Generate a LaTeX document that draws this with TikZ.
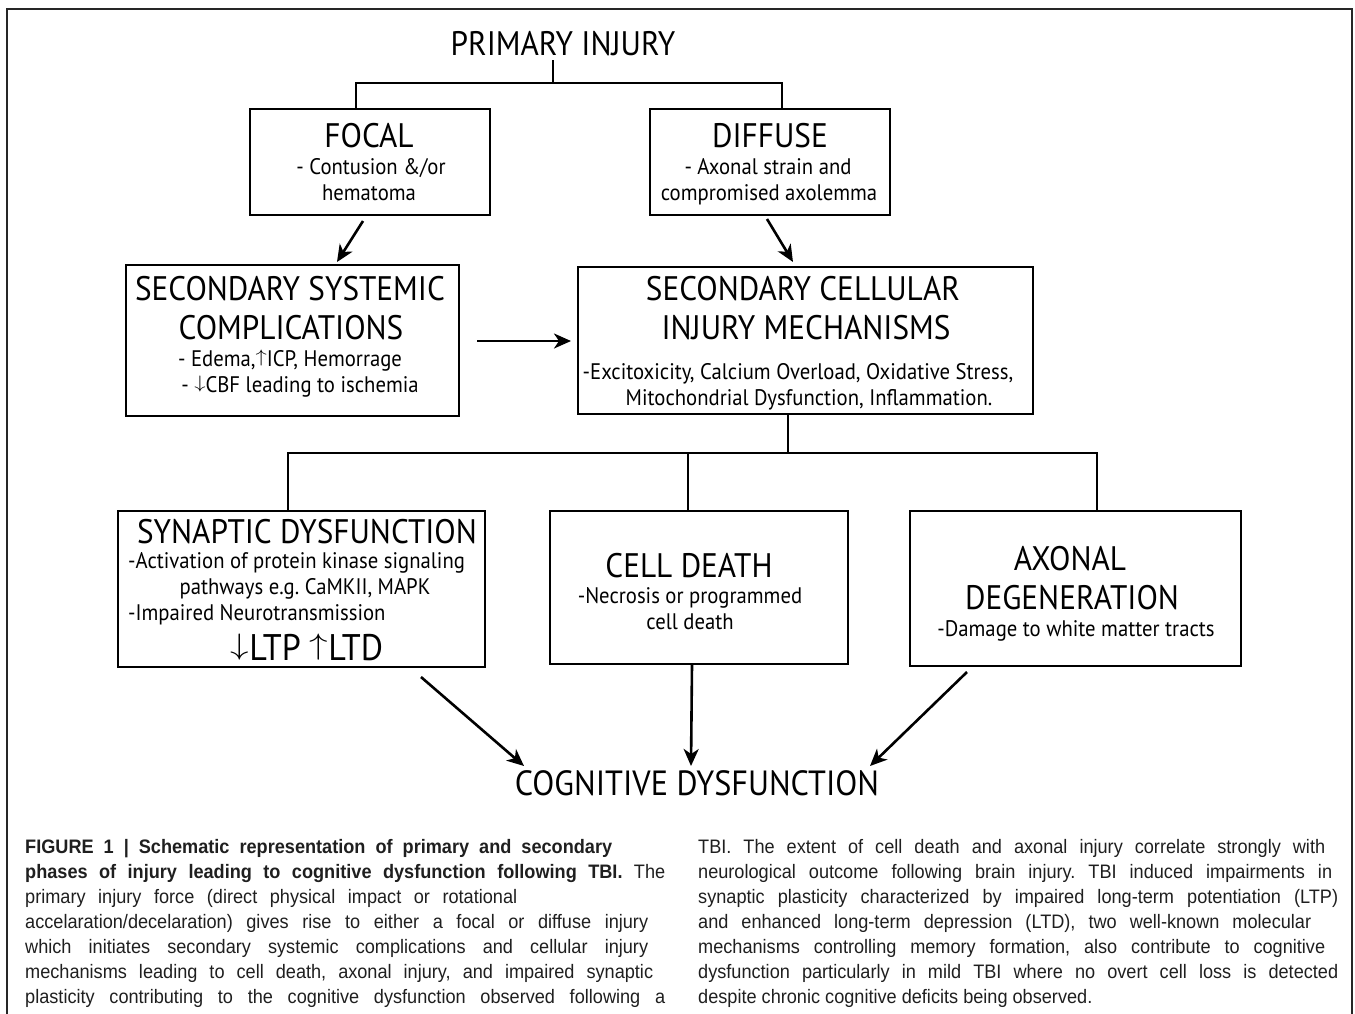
\documentclass[tikz,border=0pt]{standalone}
\usepackage{fix-cm}
\usepackage{graphicx}
\usepackage{fontspec}
\setmainfont{PT Sans}
\newfontfamily\dfont[FakeStretch=0.92]{PT Sans}
\newfontfamily\capfont[FakeStretch=0.93]{Liberation Sans}
\usetikzlibrary{arrows.meta}
\newcommand{\upa}{\raisebox{0.155em}{\scalebox{1}[0.8]{$\uparrow$}}}
\newcommand{\dna}{\raisebox{0.155em}{\scalebox{1}[0.8]{$\downarrow$}}}
\frenchspacing
\begin{document}
\begin{tikzpicture}[x=1pt,y=-1pt,
  box/.style={draw, line width=2pt, inner sep=0pt, anchor=north west},
  conn/.style={line width=2.6pt},
  arr/.style={line width=2.6pt, -{Stealth[length=17pt,width=15pt,inset=5pt]}},
  ttl/.style={anchor=base, inner sep=0pt, font=\dfont\fontsize{34}{40}\selectfont},
  sub/.style={anchor=base, inner sep=0pt, font=\dfont\fontsize{22.5}{26}\selectfont},
  subw/.style={sub, anchor=base west},
  capt/.style={anchor=base west, inner sep=0pt, text=black!88, font=\capfont\fontsize{19.5}{25}\selectfont}]
\fill[white] (0,0) rectangle (1355,1013);
\useasboundingbox (0,0) rectangle (1355,1013);
% outer frame
\draw[line width=1.3pt, black!85] (7,1030) -- (7,9) -- (1352,9) -- (1352,1030);

% title
\node[ttl] (primT) at (563,55) {PRIMARY INJURY};

% boxes
\node[box, minimum width=240pt, minimum height=106pt] (focal) at (249,108) {};
\node[box, minimum width=240pt, minimum height=106pt] (diffuse) at (649,108) {};
\node[box, minimum width=333pt, minimum height=151pt] (sys) at (125,264) {};
\node[box, minimum width=455pt, minimum height=147pt] (cell) at (577,266) {};
\node[box, minimum width=367pt, minimum height=156pt] (syn) at (117,510) {};
\node[box, minimum width=298pt, minimum height=153pt] (cd) at (549,510) {};
\node[box, minimum width=331pt, minimum height=155pt] (ax) at (909,510) {};

% box texts
\node[ttl] (focalT) at (369,147) {FOCAL};
\node[sub] (focalA) at (371,174) {- Contusion \&/or};
\node[sub] (focalB) at (369,200) {hematoma};

\node[ttl] (diffT) at (770,147) {DIFFUSE};
\node[sub] (diffA) at (768,174) {- Axonal strain and};
\node[sub] (diffB) at (769,200) {compromised axolemma};

\node[ttl] (sysT) at (290,300) {SECONDARY SYSTEMIC};
\node[ttl] (sysU) at (291,339) {COMPLICATIONS};
\node[sub] (sysA) at (290,366) {- Edema,\upa ICP, Hemorrage};
\node[sub] (sysB) at (300,392) {- \dna CBF leading to ischemia};

\node[ttl] (cellT) at (803,300) {SECONDARY CELLULAR};
\node[ttl] (cellU) at (806,339) {INJURY MECHANISMS};
\node[sub] (cellA) at (798,379) {-Excitoxicity, Calcium Overload, Oxidative Stress,};
\node[sub] (cellB) at (809,405) {Mitochondrial Dysfunction, Inflammation.};

\node[ttl] (synT) at (307,543) {SYNAPTIC DYSFUNCTION};
\node[subw] (synA) at (128,568) {-Activation of protein kinase signaling};
\node[sub] (synB) at (305,594) {pathways e.g. CaMKII, MAPK};
\node[subw] (synC) at (128,620) {-Impaired Neurotransmission};
\node[anchor=base, inner sep=0pt, font=\dfont\fontsize{37}{44}\selectfont] (synD) at (307,660) {\dna LTP \upa LTD};

\node[ttl] (cdT) at (689,577) {CELL DEATH};
\node[sub] (cdA) at (690,603) {-Necrosis or programmed};
\node[sub] (cdB) at (690,629) {cell death};

\node[ttl] (axT) at (1070,570) {AXONAL};
\node[ttl] (axU) at (1072,609) {DEGENERATION};
\node[sub] (axA) at (1076,636) {-Damage to white matter tracts};

\node[ttl, font=\dfont\fontsize{35}{42}\selectfont] (cog) at (697,795) {COGNITIVE DYSFUNCTION};

% tree connectors
\coordinate (pt) at (553,60);
\coordinate (pj) at (553,83);
\coordinate (fj) at (356,83);
\coordinate (dj) at (782,83);
\draw[conn] (pt) -- (pj);
\draw[conn] (fj |- focal.north) -- (fj) -- (dj) -- (dj |- diffuse.north);

\coordinate (cj) at (788,453);
\coordinate (bl) at (288,453);
\coordinate (bm) at (688,453);
\coordinate (br) at (1097,453);
\draw[conn] (cj |- cell.south) -- (cj);
\draw[conn] (bl |- syn.north) -- (bl) -- (br) -- (br |- ax.north);
\draw[conn] (bm) -- (bm |- cd.north);

% arrows
\draw[arr] ([shift={(-7,5)}]focal.south) -- ([shift={(44.5,-2)}]sys.north);
\draw[arr] ([shift={(-3,3)}]diffuse.south) -- ([shift={(-12.5,-4)}]cell.north);
\draw[arr] ([shift={(17,0.5)}]sys.east) -- ([shift={(-6,0.5)}]cell.west);
\draw[arr] ([shift={(119.5,9)}]syn.south) -- ([shift={(-173,-29)}]cog.base);
\draw[arr] ([shift={(-7,0)}]cd.south) -- ([shift={(-6,-29)}]cog.base);
\draw[arr] ([shift={(-108.5,5)}]ax.south) -- ([shift={(173,-29)}]cog.base);

% caption, left column
\node[capt] (cl1) at (25,853) {\makebox[587pt][s]{\bfseries FIGURE 1 | Schematic representation of primary and secondary}};
\node[capt] (cl2) at (25,878) {\makebox[640pt][s]{\bfseries phases of injury leading to cognitive dysfunction following TBI.\mdseries{} The}};
\node[capt] (cl3) at (25,903) {\makebox[492pt][s]{primary injury force (direct physical impact or rotational}};
\node[capt] (cl4) at (25,928) {\makebox[623pt][s]{accelaration/decelaration) gives rise to either a focal or diffuse injury}};
\node[capt] (cl5) at (25,953) {\makebox[623pt][s]{which initiates secondary systemic complications and cellular injury}};
\node[capt] (cl6) at (25,978) {\makebox[628pt][s]{mechanisms leading to cell death, axonal injury, and impaired synaptic}};
\node[capt] (cl7) at (25,1003) {\makebox[640pt][s]{plasticity contributing to the cognitive dysfunction observed following a}};

% caption, right column
\node[capt] (cr1) at (698,853) {\makebox[627pt][s]{TBI. The extent of cell death and axonal injury correlate strongly with}};
\node[capt] (cr2) at (698,878) {\makebox[634pt][s]{neurological outcome following brain injury. TBI induced impairments in}};
\node[capt] (cr3) at (698,903) {\makebox[640pt][s]{synaptic plasticity characterized by impaired long-term potentiation (LTP)}};
\node[capt] (cr4) at (698,928) {\makebox[613pt][s]{and enhanced long-term depression (LTD), two well-known molecular}};
\node[capt] (cr5) at (698,953) {\makebox[627pt][s]{mechanisms controlling memory formation, also contribute to cognitive}};
\node[capt] (cr6) at (698,978) {\makebox[640pt][s]{dysfunction particularly in mild TBI where no overt cell loss is detected}};
\node[capt] (cr7) at (698,1003) {despite chronic cognitive deficits being observed.};
\end{tikzpicture}
\end{document}
